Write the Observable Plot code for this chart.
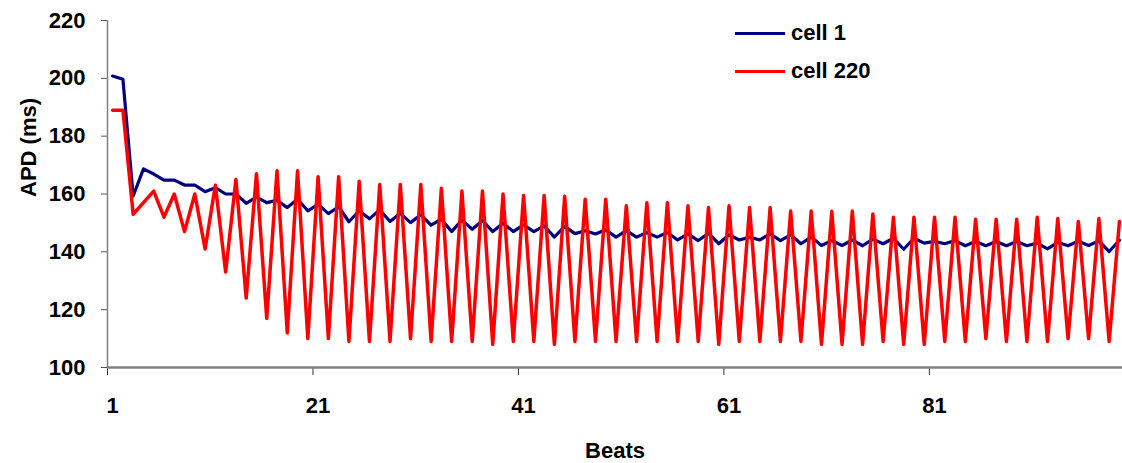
<!DOCTYPE html>
<html>
<head>
<meta charset="utf-8">
<script src="https://cdn.jsdelivr.net/npm/d3@7"></script>
<script src="https://cdn.jsdelivr.net/npm/@observablehq/plot@0.6"></script>
<style>
  html, body { margin: 0; padding: 0; background: #fff; }
  #wrap { position: relative; width: 1122px; height: 463px; font-family: "Liberation Sans", Arial, sans-serif; }
  #legend { position: absolute; left: 735px; top: 14px; font-weight: bold; font-size: 22px; color: #000; }
  .item { display: flex; align-items: center; height: 38px; }
  .swatch { width: 50px; height: 3px; margin-right: 6px; }
</style>
</head>
<body>
<div id="wrap"><div id="legend"></div></div>
<script>
const seriesNames = ["cell 1", "cell 220"];
const seriesColors = ["#000080", "#FF0000"];

const cell1 = [
  200.8, 199.7, 159.3, 168.7, 166.9, 164.8, 164.8, 163.1, 163.1, 160.8,
  162.2, 160.0, 160.0, 156.8, 158.9, 157.0, 157.8, 155.3, 158.2, 154.2,
  156.4, 153.2, 155.6, 150.4, 154.2, 151.4, 154.5, 150.5, 153.3, 150.1,
  152.8, 149.2, 151.3, 147.0, 151.0, 147.8, 150.8, 147.0, 149.9, 147.0,
  149.3, 147.0, 149.0, 145.1, 148.8, 146.3, 147.3, 146.2, 147.6, 145.1,
  147.3, 145.1, 146.7, 145.1, 146.7, 144.1, 146.2, 143.9, 146.4, 142.8,
  145.9, 144.1, 145.1, 144.1, 146.2, 143.9, 145.9, 142.8, 145.1, 142.2,
  143.9, 142.2, 144.1, 142.1, 144.4, 142.8, 144.7, 140.9, 144.7, 143.0,
  143.6, 142.8, 143.9, 142.1, 143.6, 142.1, 143.6, 142.1, 143.6, 142.1,
  143.0, 141.0, 143.3, 142.1, 143.7, 142.2, 143.8, 140.1, 144.0
];

const cell220 = [
  189, 189, 153, 157, 161, 152, 160, 147, 160, 141,
  163, 133, 165, 124, 167, 117, 168, 112, 168, 110,
  166, 110, 166, 109, 164.4, 109, 163.3, 109, 163.3, 110,
  163.3, 109, 162, 109, 161, 109, 161, 108, 160, 109,
  159.5, 109, 159.5, 108, 159.2, 109, 158.2, 109, 158.2, 109,
  155.9, 109, 157, 109, 157, 109, 155.9, 109, 155.3, 108,
  155.9, 109, 155.3, 109, 155.3, 109, 154.1, 109, 154.1, 108,
  154, 108, 154.1, 108, 153.1, 109, 152, 108, 152, 108,
  152, 109, 152, 109, 151.3, 110, 151.3, 109, 151.3, 109,
  152, 109, 151.5, 110, 150.5, 110, 151.5, 109, 150.5
];

const yTicks = [100, 120, 140, 160, 180, 200, 220];
const xTickLabels = [1, 21, 41, 61, 81];
const xTickMarks = [0.5, 20.5, 40.5, 60.5, 80.5];

const data = [];
cell1.forEach((v, i) => data.push({beat: i + 1, apd: v, series: seriesNames[0]}));
cell220.forEach((v, i) => data.push({beat: i + 1, apd: v, series: seriesNames[1]}));

const font = "Liberation Sans, Arial, sans-serif";

const chart = Plot.plot({
  width: 1122,
  height: 463,
  marginLeft: 107,
  marginTop: 20,
  marginBottom: 96,
  marginRight: 0,
  style: {fontFamily: font, fontSize: "22px", fontWeight: "bold", color: "#000", background: "#fff"},
  x: {domain: [0.5, 99.3]},
  y: {domain: [100, 220]},
  color: {domain: seriesNames, range: seriesColors},
  marks: [
    Plot.axisY({ticks: yTicks, tickSize: 6, tickPadding: 16, label: null, stroke: "#555", fontSize: 22, fontWeight: "bold"}),
    Plot.axisX({ticks: xTickMarks, tickSize: 8, tickFormat: () => "", label: null, stroke: "#333"}),
    Plot.axisX({ticks: xTickLabels, tickSize: 0, tickPadding: 30, label: null, fontSize: 22, fontWeight: "bold"}),
    Plot.ruleX([0.5], {stroke: "#808080", strokeWidth: 1.5}),
    Plot.ruleY([100], {stroke: "#808080", strokeWidth: 2.5}),
    Plot.lineY(data.filter(d => d.series === seriesNames[0]), {x: "beat", y: "apd", stroke: "series", strokeWidth: 3.2}),
    Plot.lineY(data.filter(d => d.series === seriesNames[1]), {x: "beat", y: "apd", stroke: "series", strokeWidth: 3.5}),
    Plot.text(["APD (ms)"], {frameAnchor: "left", dx: -79, dy: 3, rotate: -90, fontSize: 22, fontWeight: "bold", fill: "#000"}),
    Plot.text(["Beats"], {frameAnchor: "bottom", dy: 90, fontSize: 22, fontWeight: "bold", fill: "#000"})
  ]
});

const wrap = document.getElementById("wrap");
wrap.insertBefore(chart, wrap.firstChild);

const legend = document.getElementById("legend");
seriesNames.forEach((name, i) => {
  const item = document.createElement("div");
  item.className = "item";
  const sw = document.createElement("div");
  sw.className = "swatch";
  sw.style.background = seriesColors[i];
  const label = document.createElement("span");
  label.textContent = name;
  item.appendChild(sw);
  item.appendChild(label);
  legend.appendChild(item);
});
</script>
</body>
</html>
